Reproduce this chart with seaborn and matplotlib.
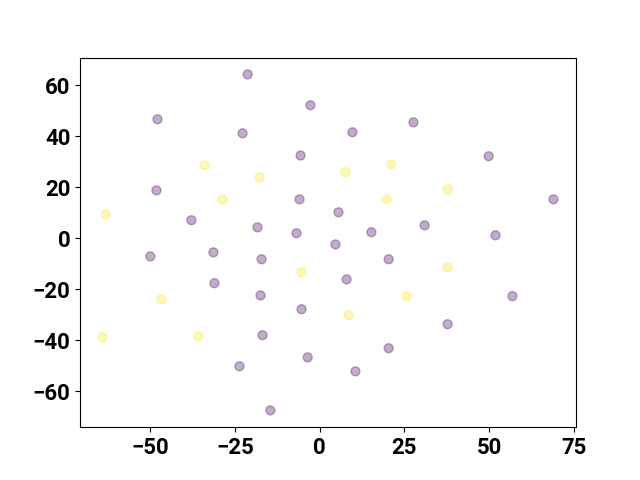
import matplotlib
matplotlib.use("Agg")
import matplotlib.pyplot as plt
import pandas as pd
import seaborn as sns

# ── Data ──────────────────────────────────────────────────────────────────────
x_class0 = [-21.2, -2.7, -47.8, -22.7, 9.7, 27.7, -5.6, 49.9, -48.1, -5.9,
            69.0, -37.8, 5.6, -18.3, 31.0, -6.8, 15.3, 51.9, -49.9, -31.3,
            4.7, -17.1, 20.4, -31.0, 8.0, -17.4, 56.9, -5.3, 37.8, -16.8,
            20.4, -3.5, -23.6, 10.6, -14.5]
y_class0 = [64.3, 52.2, 46.7, 41.2, 41.6, 45.5, 32.5, 32.2, 18.8, 15.3,
            15.3, 7.1, 10.2, 4.3, 5.1, 2.0, 2.4, 1.2, -7.1, -5.5,
            -2.4, -8.2, -8.2, -17.6, -16.1, -22.4, -22.7, -27.8, -33.7, -38.0,
            -43.1, -46.7, -50.2, -52.2, -67.5]

x_class1 = [-33.9, 21.2, 7.7, -17.7, 37.8, -28.6, 19.8, -63.1, -5.3, 37.8,
            25.7, -46.6, 8.6, -35.7, -64.0]
y_class1 = [28.6, 29.0, 25.9, 23.9, 19.2, 15.3, 15.3, 9.4, -13.3, -11.4,
            -22.7, -23.9, -30.2, -38.4, -38.8]

CLASS_COLORS = ["#440154", "#fde725"]

df = pd.DataFrame({
    "x": x_class0 + x_class1,
    "y": y_class0 + y_class1,
    "label": [0] * len(x_class0) + [1] * len(x_class1),
})

sns.set_style("ticks", {"text.color": "black", "xtick.color": "black",
                        "ytick.color": "black", "axes.edgecolor": "black"})
plt.rcParams["font.family"] = ["Roboto", "DejaVu Sans"]

fig, ax = plt.subplots(figsize=(6.4, 4.8), dpi=100)
sns.scatterplot(
    data=df, x="x", y="y", hue="label", palette=CLASS_COLORS,
    alpha=0.32, s=42, edgecolor="face", linewidth=1.0,
    legend=False, ax=ax,
)
ax.set_xlabel("")
ax.set_ylabel("")
ax.set_xticks([-50, -25, 0, 25, 50, 75])
ax.set_yticks([-60, -40, -20, 0, 20, 40, 60])
ax.tick_params(colors="black", labelsize=16)
for lbl in ax.get_xticklabels() + ax.get_yticklabels():
    lbl.set_fontweight("bold")
    lbl.set_color("black")
for spine in ax.spines.values():
    spine.set_visible(True)
    spine.set_color("black")
    spine.set_linewidth(0.8)

fig.savefig("out.png", dpi=100)
